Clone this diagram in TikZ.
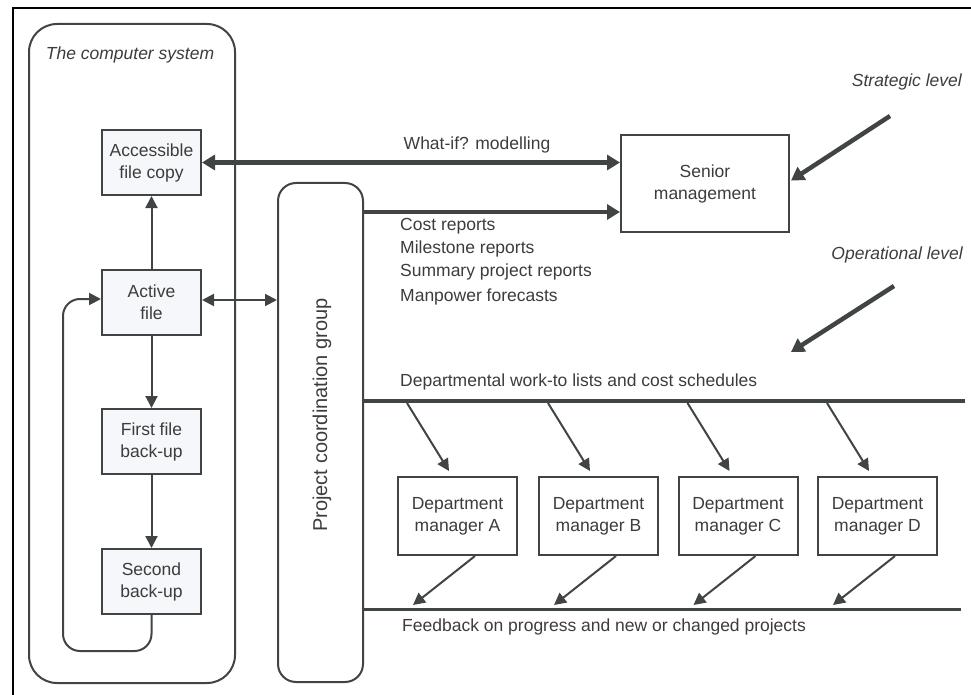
\documentclass[tikz,border=0pt]{standalone}
\usepackage{fontspec}
\setmainfont{Liberation Sans}
\usetikzlibrary{calc,arrows.meta}
\definecolor{ink}{HTML}{404444}
\definecolor{txt}{HTML}{3C3C3C}
\definecolor{paleblue}{HTML}{F6F7FA}
\tikzset{
  base/.style={text=txt, font=\fontsize{17.5}{22}\selectfont},
  filebox/.style={base, draw=ink, line width=2pt, fill=paleblue, minimum width=99pt, minimum height=65pt, align=center, inner sep=0pt},
  deptbox/.style={base, draw=ink, line width=2pt, fill=white, minimum width=119pt, minimum height=78pt, align=center, inner sep=0pt},
  conn/.style={draw=ink, line width=2pt, -{Triangle[length=12pt,width=12pt]}},
  biconn/.style={draw=ink, line width=2pt, {Triangle[length=12pt,width=12pt]}-{Triangle[length=12pt,width=12pt]}},
  heavy/.style={draw=ink, line width=4.5pt, -{Triangle[length=13pt,width=15pt]}},
  biheavy/.style={draw=ink, line width=4.5pt, {Triangle[length=13pt,width=15pt]}-{Triangle[length=13pt,width=15pt]}},
  rail/.style={draw=ink, line width=4pt},
  lbl/.style={base, inner sep=0pt},
  itlbl/.style={base, font=\fontsize{17.5}{22}\selectfont\itshape, inner sep=0pt}
}
\begin{document}
\begin{tikzpicture}[x=1pt,y=-1pt]
\useasboundingbox (0,0) rectangle (971,695);
% page frame
\draw[black, line width=2pt] (13,700) -- (13,8) -- (971,8);

% computer system enclosure
\node[draw=ink, line width=2pt, rounded corners=28pt, minimum width=206pt, minimum height=659pt, inner sep=0pt] (sys) at (132,353.5) {};
\node[itlbl] (systitle) at (130,55) {The computer system};

% files
\node[filebox] (acc) at (151.5,162.5) {Accessible\\file copy};
\node[filebox] (act) at (151.5,302.5) {Active\\file};
\node[filebox] (fb1) at (151.5,441.5) {First file\\back-up};
\node[filebox] (fb2) at (151.5,581.5) {Second\\back-up};

% project coordination group
\node[draw=ink, line width=2pt, rounded corners=18pt, minimum width=85pt, minimum height=499pt, inner sep=0pt] (pcg) at (320.5,432.5) {};
\node[base, font=\fontsize{20}{24}\selectfont, rotate=90, inner sep=0pt] (pcgtext) at (322,415) {Project coordination group};

% senior management
\node[deptbox, minimum width=168pt, minimum height=97pt] (senior) at (705,183.5) {Senior\\management};

% department managers
\node[deptbox] (dA) at (457.5,516) {Department\\manager A};
\node[deptbox] (dB) at (598.5,516) {Department\\manager B};
\node[deptbox] (dC) at (738,516) {Department\\manager C};
\node[deptbox] (dD) at (877.5,516) {Department\\manager D};

% flows inside the computer system
\draw[conn] (act.north) -- (acc.south);
\draw[conn] (act.south) -- (fb1.north);
\draw[conn] (fb1.south) -- (fb2.north);
\draw[conn, rounded corners=17pt] (fb2.south) -- (fb2.south |- 0,651) -- (63,651) -- (63,299) -- (act.west |- 0,299);
\draw[biconn] (act.east |- 0,300) -- (pcg.west |- 0,300);

% reporting to senior management
\coordinate (costy) at (0,212);
\draw[biheavy] (acc.east) -- (acc.east -| senior.west);
\node[lbl] (whatif) at (477,145) {What-if? modelling};
\draw[heavy] (pcg.east |- costy) -- (senior.west |- costy);
\node[lbl, anchor=west] (r1) at (400,226) {Cost reports};
\node[lbl, anchor=west] (r2) at (400,249) {Milestone reports};
\node[lbl, anchor=west] (r3) at (400,272) {Summary project reports};
\node[lbl, anchor=west] (r4) at (400,297) {Manpower forecasts};

% level indicators
\node[itlbl, anchor=east] (strat) at (962,82) {Strategic level};
\coordinate (stratfrom) at (890,116);
\draw[heavy] (stratfrom) -- ($(senior.east)+(1,-3)$);
\node[itlbl, anchor=east] (oper) at (963,255) {Operational level};
\coordinate (operfrom) at (894,286);
\coordinate (operto) at (791,352);
\draw[heavy] (operfrom) -- (operto);

% work-to lists rail and feedback rail
\coordinate (wl) at (0,401);
\coordinate (fl) at (0,609);
\node[lbl, anchor=west] (wltext) at (400,382) {Departmental work-to lists and cost schedules};
\draw[rail] (pcg.east |- wl) -- (965,401);
\draw[rail, line width=3pt] (pcg.east |- fl) -- (961,609);
\node[lbl, anchor=west] (fltext) at (402,627) {Feedback on progress and new or changed projects};

\foreach \d in {dA,dB,dC,dD}{
  \draw[conn] ($(\d.north west |- wl)+(10,2)$) -- ($(\d.north west)+(52,-5)$);
  \draw[conn] ($(\d.south west)+(78,0)$) -- ($(\d.south west |- fl)+(16,-4)$);
}
\end{tikzpicture}
\end{document}
